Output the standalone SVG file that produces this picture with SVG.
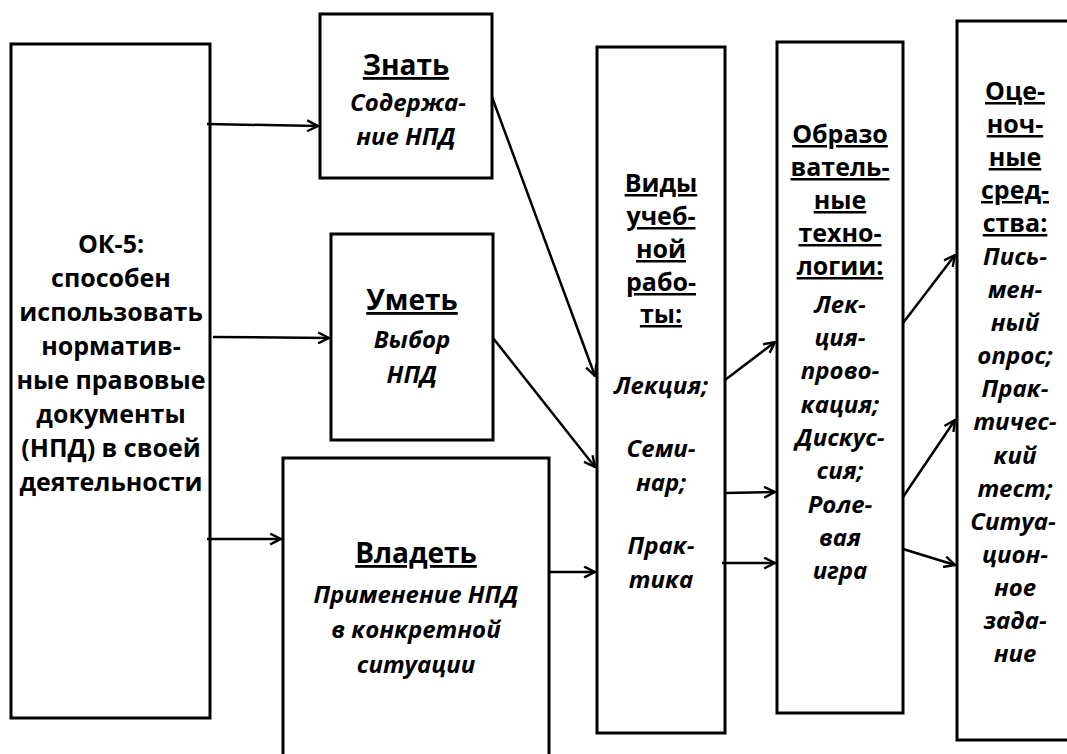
<svg xmlns="http://www.w3.org/2000/svg" width="1067" height="754" viewBox="0 0 1067 754">
<defs>
<marker id="arr" viewBox="0 0 12 12" refX="11" refY="6" markerWidth="13" markerHeight="13" markerUnits="userSpaceOnUse" orient="auto">
<path d="M1,1 L11,6 L1,11" fill="none" stroke="#000" stroke-width="2.2"/>
</marker>
<style>
.box{fill:#fff;stroke:#000;stroke-width:3}
.t{font-family:"Open Sans","Liberation Sans",Arial,sans-serif;font-weight:bold;font-size:25px;text-anchor:middle;fill:#000}
.h{text-decoration:underline}
.big{font-size:28px}
.i{font-style:italic;font-size:24px}
.c{fill:none;stroke:#000;stroke-width:2.5;marker-end:url(#arr)}
</style>
</defs>
<rect width="1067" height="754" fill="#fff"/>
<g id="ok5">
<rect class="box" x="11" y="44" width="199" height="674"/>
<text class="t" x="111" y="253">ОК-5:</text>
<text class="t" x="111" y="287">способен</text>
<text class="t" x="111" y="321">использовать</text>
<text class="t" x="111" y="355">норматив-</text>
<text class="t" x="111" y="389">ные правовые</text>
<text class="t" x="111" y="423">документы</text>
<text class="t" x="111" y="457">(НПД) в своей</text>
<text class="t" x="111" y="491">деятельности</text>
</g>
<g id="znat">
<rect class="box" x="320" y="14" width="172" height="164"/>
<text class="t big h" x="406" y="75">Знать</text>
<text class="t i" x="408" y="111">Содержа-</text>
<text class="t i" x="406" y="145">ние НПД</text>
</g>
<g id="umet">
<rect class="box" x="331" y="234" width="162" height="206"/>
<text class="t big h" x="412" y="310">Уметь</text>
<text class="t i" x="412" y="348">Выбор</text>
<text class="t i" x="412" y="383">НПД</text>
</g>
<g id="vladet">
<rect class="box" x="283" y="458" width="266" height="310"/>
<text class="t big h" x="416" y="563">Владеть</text>
<text class="t i" x="416" y="603">Применение НПД</text>
<text class="t i" x="416" y="638">в конкретной</text>
<text class="t i" x="416" y="673">ситуации</text>
</g>
<g id="vidy">
<rect class="box" x="597" y="47" width="128" height="686"/>
<text class="t h" x="661" y="192">Виды</text>
<text class="t h" x="661" y="225">учеб-</text>
<text class="t h" x="661" y="258">ной</text>
<text class="t h" x="661" y="291">рабо-</text>
<text class="t h" x="661" y="323">ты:</text>
<text class="t i" x="661" y="394">Лекция;</text>
<text class="t i" x="661" y="457">Семи-</text>
<text class="t i" x="661" y="491">нар;</text>
<text class="t i" x="661" y="554">Прак-</text>
<text class="t i" x="661" y="588">тика</text>
</g>
<g id="obraz">
<rect class="box" x="777" y="42" width="126" height="671"/>
<text class="t h" x="840" y="143">Образо</text>
<text class="t h" x="840" y="176">ватель-</text>
<text class="t h" x="840" y="209">ные</text>
<text class="t h" x="840" y="242">техно-</text>
<text class="t h" x="840" y="275">логии:</text>
<text class="t i" x="840" y="313">Лек-</text>
<text class="t i" x="840" y="346">ция-</text>
<text class="t i" x="840" y="379">прово-</text>
<text class="t i" x="840" y="413">кация;</text>
<text class="t i" x="840" y="446">Дискус-</text>
<text class="t i" x="840" y="479">сия;</text>
<text class="t i" x="840" y="513">Роле-</text>
<text class="t i" x="840" y="546">вая</text>
<text class="t i" x="840" y="579">игра</text>
</g>
<g id="ocen">
<rect class="box" x="957" y="21" width="130" height="719"/>
<text class="t h" x="1015" y="100">Оце-</text>
<text class="t h" x="1015" y="133">ноч-</text>
<text class="t h" x="1015" y="166">ные</text>
<text class="t h" x="1015" y="199">сред-</text>
<text class="t h" x="1015" y="232">ства:</text>
<text class="t i" x="1015" y="265">Пись-</text>
<text class="t i" x="1015" y="298">мен-</text>
<text class="t i" x="1015" y="331">ный</text>
<text class="t i" x="1015" y="364">опрос;</text>
<text class="t i" x="1015" y="397">Прак-</text>
<text class="t i" x="1015" y="430">тичес-</text>
<text class="t i" x="1015" y="464">кий</text>
<text class="t i" x="1015" y="497">тест;</text>
<text class="t i" x="1013" y="530">Ситуа-</text>
<text class="t i" x="1015" y="563">цион-</text>
<text class="t i" x="1015" y="596">ное</text>
<text class="t i" x="1015" y="629">зада-</text>
<text class="t i" x="1015" y="662">ние</text>
</g>
<g id="connectors">
<line class="c" x1="207" y1="124" x2="318" y2="126"/>
<line class="c" x1="213" y1="337" x2="329" y2="338"/>
<line class="c" x1="207" y1="539" x2="281" y2="539"/>
<line class="c" x1="492" y1="97" x2="595" y2="376"/>
<line class="c" x1="493" y1="338" x2="595" y2="467"/>
<line class="c" x1="549" y1="572" x2="595" y2="572"/>
<line class="c" x1="725" y1="380" x2="775" y2="342"/>
<line class="c" x1="725" y1="493" x2="775" y2="492"/>
<line class="c" x1="722" y1="563" x2="775" y2="563"/>
<line class="c" x1="903" y1="323" x2="955" y2="255"/>
<line class="c" x1="903" y1="497" x2="955" y2="420"/>
<line class="c" x1="903" y1="549" x2="955" y2="565"/>
</g>
</svg>
